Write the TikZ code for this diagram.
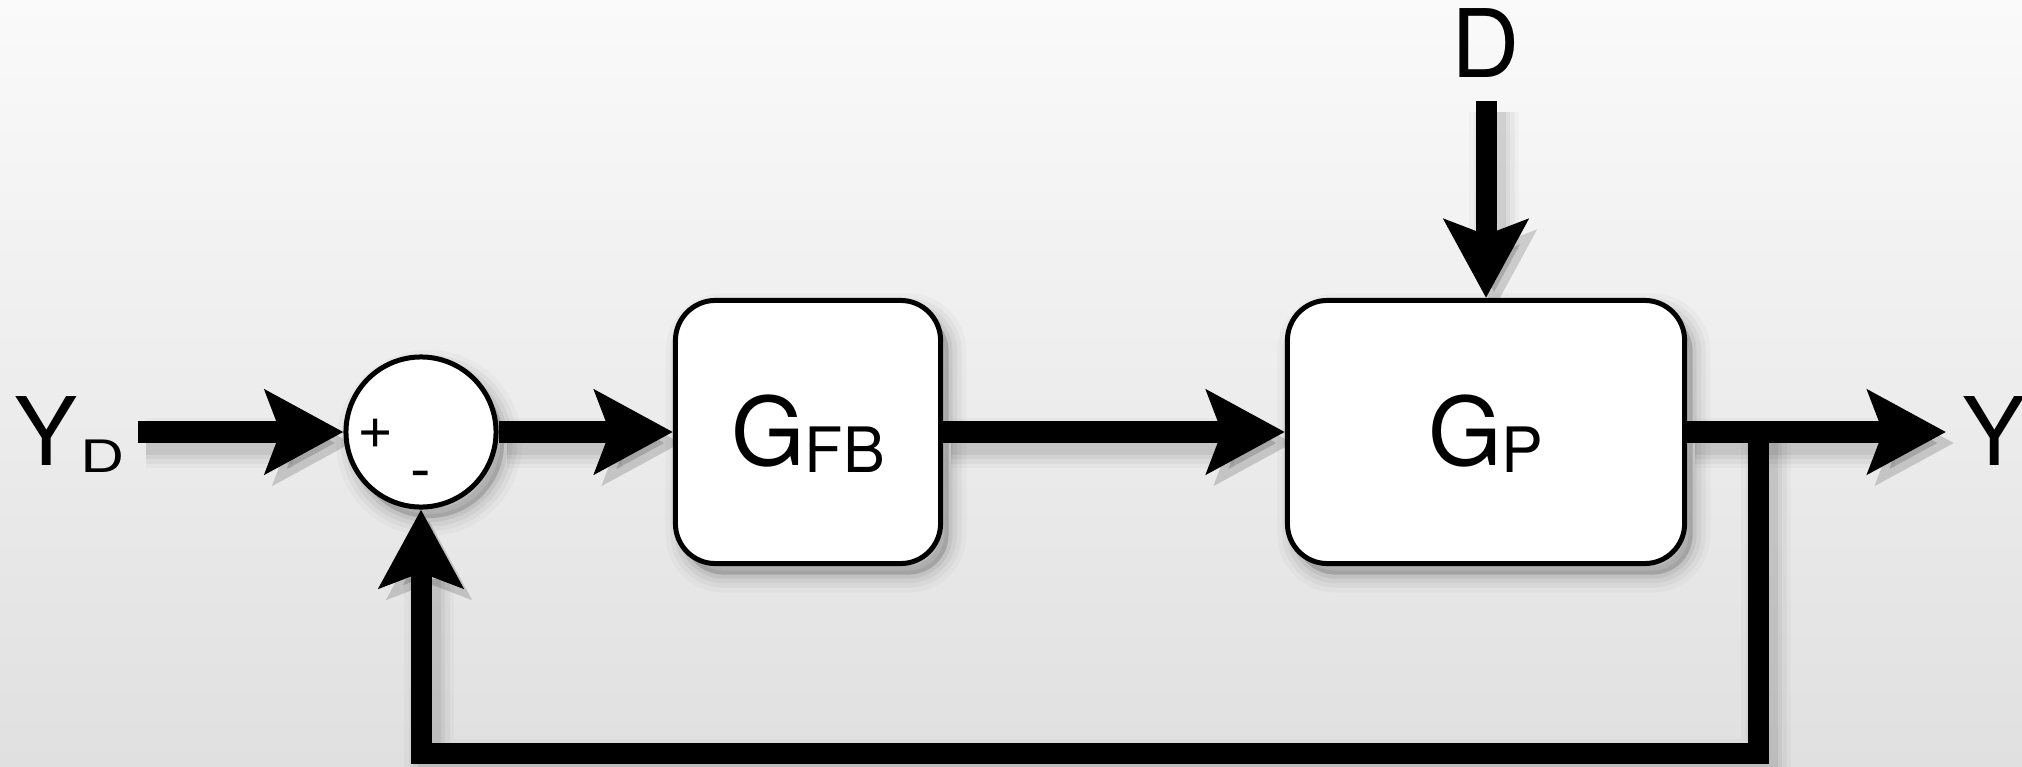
\documentclass[tikz,border=0pt]{standalone}
\usepackage{fontspec}
\setmainfont{TeX Gyre Heros}
\usepackage{graphicx}
\usetikzlibrary{arrows.meta}
\definecolor{bgtop}{RGB}{250,250,250}
\definecolor{bgbot}{RGB}{224,224,224}
\newcommand\bigsz{\fontsize{26.9pt}{30pt}\selectfont}
\newcommand\subsz{\fontsize{17.8pt}{20pt}\selectfont}
\newcommand\ydsz{\fontsize{12.7pt}{14pt}\selectfont}
\newcommand\pmsz{\fontsize{17.6pt}{20pt}\selectfont}
\pgfdeclarelayer{bg}
\pgfdeclarelayer{lines}
\pgfsetlayers{bg,lines,main}
\begin{document}
\begin{tikzpicture}[x=0.01cm, y=-0.01cm,
  shl/.style 2 args={preaction={draw=black, opacity=#2, line width=#1, transform canvas={shift={(0.08cm,-0.11cm)}}}},
  shf/.style 2 args={preaction={draw=black, fill=black, opacity=#2, line width=#1, transform canvas={shift={(0.08cm,-0.11cm)}}}},
  nshadow/.style={shf={0.36cm}{0.025}, shf={0.26cm}{0.035}, shf={0.17cm}{0.045}, shf={0.08cm}{0.06}},
  box/.style={draw=black, line width=0.05cm, fill=white, rounded corners=0.4cm, nshadow,
    minimum height=2.63cm, inner sep=0pt, text depth=0pt, font=\bigsz},
  sumnode/.style={circle, draw=black, line width=0.05cm, fill=white, minimum size=1.5cm, inner sep=0pt, nshadow},
  lshadow/.style={shl={0.50cm}{0.025}, shl={0.41cm}{0.035}, shl={0.32cm}{0.045}, shl={0.23cm}{0.06}},
  sig/.style={draw=black, line width=0.21cm, line join=miter, lshadow,
    -{Stealth[length=0.78cm, width=0.83cm, inset=0.15cm]}},
  lbl/.style={inner sep=0pt, font=\bigsz},
  pm/.style={inner sep=0pt, font=\pmsz}
]
\useasboundingbox (0,0) rectangle (2022,767);
\begin{pgfonlayer}{bg}
  \shade[top color=bgtop, bottom color=bgbot] (0,0) rectangle (2022,767);
\end{pgfonlayer}

% blocks
\node[sumnode] (sum) at (421,432) {};
\node[pm, anchor=base] (plus) at (376,448) {+};
\node[pm, anchor=base] (minus) at (421,490) {-};
\node[box, minimum width=2.65cm, text height=0.66cm] (gfb) at (808,432)
  {G\raisebox{-0.07cm}{\subsz FB}};
\node[box, minimum width=3.97cm, text height=0.66cm] (gp) at (1486,432)
  {G\raisebox{-0.07cm}{\subsz P}};

% labels
\node[lbl, anchor=base west] (yd) at (14,465)
  {Y\kern0.03cm\raisebox{-0.07cm}{\ydsz\scalebox{1.37}[1]{D}}};
\node[lbl, anchor=base] (dlbl) at (1486,78) {D};
\node[lbl, anchor=base west] (ylbl) at (1962,465) {Y};

% connector end points
\coordinate (ydstart) at (138,432);
\coordinate (yend) at (1946,432);
\coordinate (dstart) at (1486,101);
\coordinate (branch) at (1758,432);
\coordinate (fbcorner) at (1758,753);

\begin{pgfonlayer}{lines}
  \draw[sig] (ydstart) -- (sum.west);
  \draw[sig] (sum.east) -- (gfb.west);
  \draw[sig] (gfb.east) -- (gp.west);
  \draw[sig] (gp.east) -- (yend);
  \draw[sig] (dstart) -- (gp.north);
  \draw[sig] (branch) -- (fbcorner) -| (sum.south);
\end{pgfonlayer}
\end{tikzpicture}
\end{document}
